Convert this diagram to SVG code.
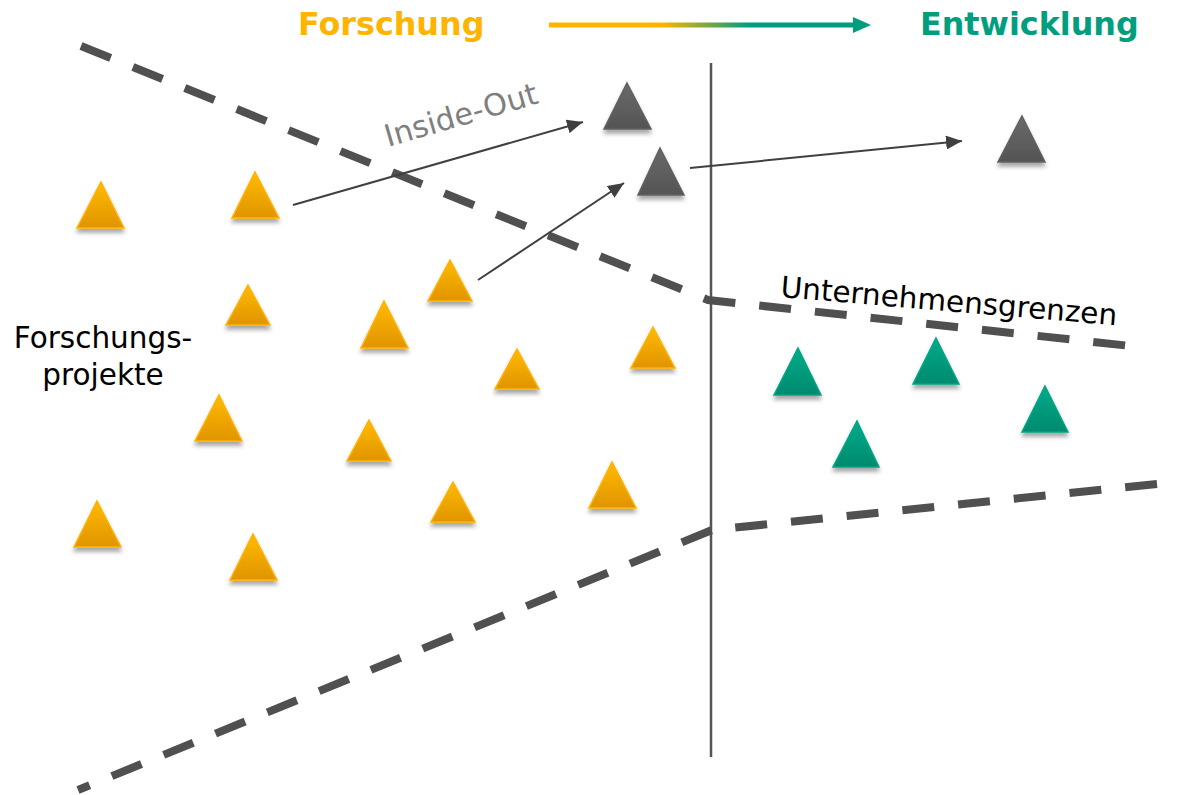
<svg xmlns="http://www.w3.org/2000/svg" width="1193" height="795" viewBox="0 0 1193 795">
<defs>
<style>
text{font-family:"DejaVu Sans","Liberation Sans",sans-serif}
.lbl{font-size:29.5px;fill:#000}
.io{font-size:30.5px;fill:#7f7f7f}
.title{font-size:31.8px;font-weight:bold}
.dash{fill:none;stroke:#505050;stroke-width:8;stroke-dasharray:32 24}
.arr{fill:none;stroke:#404040;stroke-width:2;marker-end:url(#ah)}
.tri-o{fill:url(#go);stroke:#FFB300;stroke-width:1.5;filter:url(#sh)}
.tri-g{fill:url(#gg);stroke:#00A584;stroke-width:1.5;filter:url(#sh)}
.tri-k{fill:url(#gk);stroke:#606060;stroke-width:1.5;filter:url(#sh)}
</style>
<linearGradient id="go" x1="0" y1="0" x2="0" y2="1"><stop offset="0" stop-color="#FFBB00"/><stop offset="1" stop-color="#E09400"/></linearGradient>
<linearGradient id="gg" x1="0" y1="0" x2="0" y2="1"><stop offset="0" stop-color="#00AB8A"/><stop offset="1" stop-color="#008A6E"/></linearGradient>
<linearGradient id="gk" x1="0" y1="0" x2="0" y2="1"><stop offset="0" stop-color="#6A6A6A"/><stop offset="1" stop-color="#545454"/></linearGradient>
<linearGradient id="gt" gradientUnits="userSpaceOnUse" x1="549" y1="0" x2="871" y2="0"><stop offset="0.35" stop-color="#FFB400"/><stop offset="0.62" stop-color="#009E7E"/></linearGradient>
<filter id="sh" x="-30%" y="-30%" width="160%" height="180%"><feDropShadow dx="0" dy="4" stdDeviation="2" flood-color="#000" flood-opacity="0.35"/></filter>
<marker id="ah" markerUnits="userSpaceOnUse" markerWidth="18" markerHeight="14" refX="16" refY="7" orient="auto"><path d="M0,0 L16,7 L0,14 z" fill="#404040"/></marker>
</defs>

<g id="header">
<text class="title" x="298" y="35" fill="#FFB400">Forschung</text>
<text class="title" x="920" y="35" fill="#009E7E">Entwicklung</text>
<line x1="549" y1="25" x2="856" y2="25" stroke="url(#gt)" stroke-width="5"/>
<path d="M853,17 L871,25 L853,33 z" fill="#009E7E"/>
</g>

<g id="boundaries">
<line x1="711" y1="63" x2="711" y2="757" stroke="#555" stroke-width="2.5"/>
<path class="dash" d="M81,46 L708,300 L1140,347"/>
<path class="dash" d="M1157,484 L712,530 L78,790"/>
</g>

<g id="connectors">
<line class="arr" x1="293" y1="205" x2="583" y2="122"/>
<line class="arr" x1="478" y1="280" x2="624" y2="183"/>
<line class="arr" x1="690" y1="168" x2="962" y2="141"/>
</g>

<g id="labels">
<text class="lbl" x="103" y="348" text-anchor="middle">Forschungs-</text>
<text class="lbl" x="103" y="385" text-anchor="middle">projekte</text>
<text class="io" x="388" y="147" transform="rotate(-16.2 388 147)">Inside-Out</text>
<text class="lbl" x="780" y="297" transform="rotate(4.8 780 297)">Unternehmensgrenzen</text>
</g>

<g id="research-projects">
<polygon id="o1" class="tri-o" points="101,182 124,228 77,228"/>
<polygon id="o2" class="tri-o" points="255,172 279,218 232,218"/>
<polygon id="o3" class="tri-o" points="248,285 270,325 226,325"/>
<polygon id="o4" class="tri-o" points="384,301 408,348 361,348"/>
<polygon id="o5" class="tri-o" points="450,260 472,301 428,301"/>
<polygon id="o6" class="tri-o" points="517,349 539,389 495,389"/>
<polygon id="o7" class="tri-o" points="653,327 675,368 631,368"/>
<polygon id="o8" class="tri-o" points="219,395 242,441 195,441"/>
<polygon id="o9" class="tri-o" points="369,420 391,461 347,461"/>
<polygon id="o10" class="tri-o" points="453,482 475,522 431,522"/>
<polygon id="o11" class="tri-o" points="612,462 636,508 589,508"/>
<polygon id="o12" class="tri-o" points="97,501 121,547 74,547"/>
<polygon id="o13" class="tri-o" points="253,534 277,580 230,580"/>
</g>

<g id="external-projects">
<polygon id="k1" class="tri-k" points="627,83 651,129 604,129"/>
<polygon id="k2" class="tri-k" points="660,148 684,195 638,195"/>
<polygon id="k3" class="tri-k" points="1022,116 1045,162 998,162"/>
</g>

<g id="development-projects">
<polygon id="g1" class="tri-g" points="798,348 821,395 774,395"/>
<polygon id="g2" class="tri-g" points="936,338 959,384 913,384"/>
<polygon id="g3" class="tri-g" points="857,421 879,467 833,467"/>
<polygon id="g4" class="tri-g" points="1045,386 1068,432 1022,432"/>
</g>
</svg>
